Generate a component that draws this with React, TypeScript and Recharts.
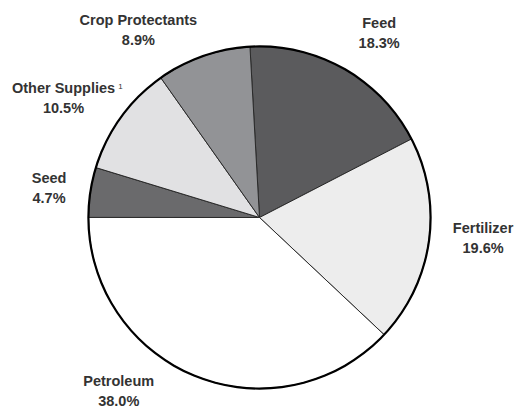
import React from "react";
import { PieChart, Pie, Cell } from "recharts";

const categories = ["Feed", "Fertilizer", "Petroleum", "Seed", "Other Supplies", "Crop Protectants"];
const shares = [18.3, 19.6, 38.0, 4.7, 10.5, 8.9];
const footnotes = ["", "", "", "", "1", ""];

const fills = ["#5b5b5d", "#ededed", "#ffffff", "#6a6a6c", "#e1e1e3", "#929396"];
// label placement tweaks: angle shift (deg) and distance beyond outer radius
const labelAngleShift = [-3.3, 2.8, -17.4, 0.5, 4.5, 13.6];
const labelGap = [48.5, 53.5, 52.5, 41.5, 58.5, 52.5];

const data = categories.map((name, i) => ({ name, value: shares[i], note: footnotes[i], idx: i }));
const ring = [{ name: "ring", value: 1 }];

const RAD = Math.PI / 180;
const FONT = "'Liberation Sans', Arial, Helvetica, sans-serif";

const renderLabel = (props: any) => {
  const { cx, cy, midAngle, outerRadius, index } = props;
  const ang = (midAngle + labelAngleShift[index]) * RAD;
  const r = outerRadius + labelGap[index];
  const x = cx + r * Math.cos(-ang);
  const y = cy + r * Math.sin(-ang);
  const d = data[index];
  return (
    <g>
      <text
        x={x}
        y={y - 10}
        textAnchor="middle"
        dominantBaseline="central"
        fill="#333333"
        style={{ fontFamily: FONT, fontWeight: 700, fontSize: 14.5 }}
      >
        {d.name}
      </text>
      {d.note ? (
        <text
          x={x + 57}
          y={y - 12}
          textAnchor="middle"
          dominantBaseline="central"
          fill="#333333"
          style={{ fontFamily: FONT, fontWeight: 400, fontSize: 8 }}
        >
          {d.note}
        </text>
      ) : null}
      <text
        x={x}
        y={y + 10}
        textAnchor="middle"
        dominantBaseline="central"
        fill="#333333"
        style={{ fontFamily: FONT, fontWeight: 700, fontSize: 14.5 }}
      >
        {d.value.toFixed(1) + "%"}
      </text>
    </g>
  );
};

export default function App() {
  return (
    <div style={{ position: "fixed", left: 0, top: 0, width: 515, height: 408, background: "#fff" }}>
      <PieChart width={515} height={408} margin={{ top: 0, right: 0, bottom: 0, left: 0 }}>
        <Pie
          data={data}
          dataKey="value"
          nameKey="name"
          cx={259.5}
          cy={217.5}
          outerRadius={171}
          startAngle={93.2}
          endAngle={-266.8}
          stroke="#2a2a2a"
          strokeWidth={1}
          label={renderLabel}
          labelLine={false}
          isAnimationActive={false}
        >
          {data.map((d, i) => (
            <Cell key={d.name} fill={fills[i]} />
          ))}
        </Pie>
        <Pie
          data={ring}
          dataKey="value"
          cx={259.5}
          cy={217.5}
          innerRadius={170}
          outerRadius={172.2}
          startAngle={90}
          endAngle={-270}
          fill="#000000"
          stroke="none"
          isAnimationActive={false}
        />
      </PieChart>
    </div>
  );
}
